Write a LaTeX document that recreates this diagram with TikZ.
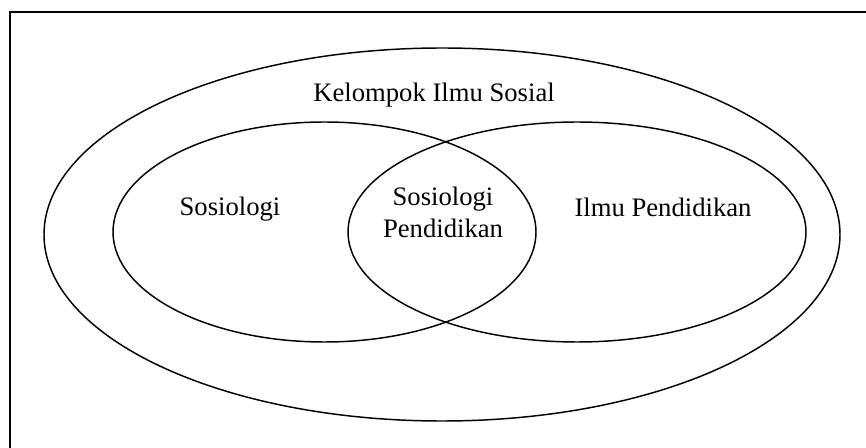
\documentclass[tikz,border=0pt]{standalone}
\usepackage{fontspec}
\setmainfont{Liberation Serif}
\begin{document}
\begin{tikzpicture}[x=0.75pt,y=-0.75pt,
  shapeline/.style={line width=1.1pt},
  lbl/.style={font=\fontsize{20}{24}\selectfont, inner sep=0pt, align=center}]
\useasboundingbox (0,0) rectangle (866,448);
% frame (only top and left visible)
\coordinate (fTL) at (10,12);
\coordinate (fTR) at (866,12);
\coordinate (fBL) at (10,448);
\draw[line width=1.1pt] (fTR) -- (fTL) -- (fBL);
% ellipses
\draw[shapeline] (442,234.5) ellipse [x radius=398, y radius=186.5];
\draw[shapeline] (324.5,232) ellipse [x radius=211.5, y radius=110];
\draw[shapeline] (577,232) ellipse [x radius=229, y radius=110];
% labels
\node[lbl, anchor=base] (kis) at (434,102) {Kelompok Ilmu Sosial};
\node[lbl, anchor=base] (sos) at (230,216) {Sosiologi};
\node[lbl, anchor=base] (ip) at (663,217) {Ilmu Pendidikan};
\node[lbl, anchor=center] (sp) at (443,212) {Sosiologi\\Pendidikan};
\end{tikzpicture}
\end{document}
